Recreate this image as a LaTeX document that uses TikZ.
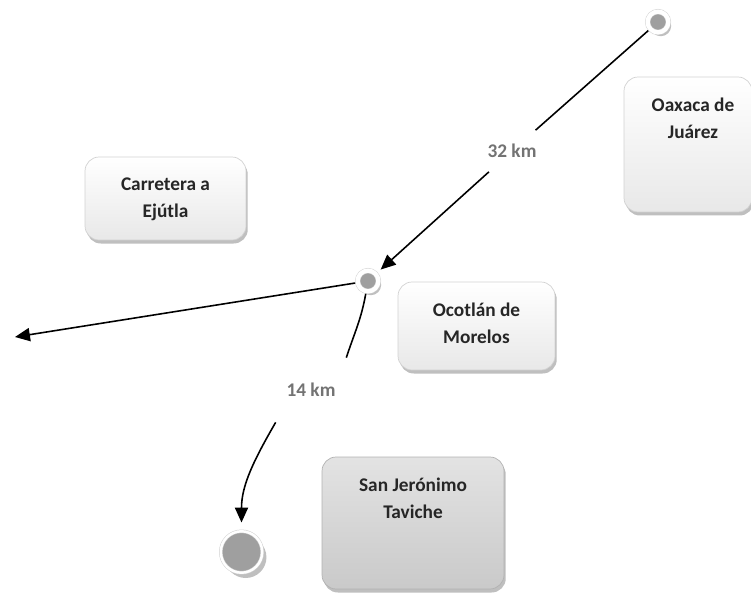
\documentclass[tikz,border=0pt]{standalone}
\usepackage{fontspec}
\setmainfont{Carlito}
\usetikzlibrary{positioning,shadows,arrows.meta}

\tikzset{
  town/.style={rectangle, rounded corners=8pt, draw=gray!35, top color=white, bottom color=gray!18,
    drop shadow={shadow xshift=1pt, shadow yshift=-2pt, fill=gray!50, opacity=1}},
  bigtown/.style={town, draw=gray!60, top color=gray!22, bottom color=gray!42},
  townname/.style={inner sep=0pt, align=center, font=\fontsize{11}{15.5}\selectfont\bfseries, text=black!85},
  stopdot/.style={circle, fill=gray!75, draw=gray!35, double=white, double distance=2.4pt, line width=0.3pt,
    minimum size=11.8pt, inner sep=0pt, outer sep=1.5pt,
    drop shadow={shadow xshift=1.6pt, shadow yshift=-2.2pt, fill=gray!50, opacity=1}},
  bigstopdot/.style={stopdot, double distance=1.4pt, minimum size=23.6pt, outer sep=1pt,
    drop shadow={shadow xshift=2.4pt, shadow yshift=-3pt, fill=gray!50, opacity=1}},
  kmlabel/.style={inner sep=0pt, font=\fontsize{11}{13}\selectfont\bfseries, text=black!55},
  road/.style={line width=0.9pt}
}

\begin{document}
\begin{tikzpicture}[x=0.02cm,y=-0.02cm,>={Triangle[length=8.5pt,width=7.5pt]}]
\useasboundingbox (0,0) rectangle (751,594);

% localities
\node[town, minimum width=2.56cm, minimum height=2.7cm] (oaxaca) at (688,144.5) {};
\node[town, minimum width=3.22cm, minimum height=1.66cm] (carretera) at (165.5,198.5) {};
\node[town, minimum width=3.14cm, minimum height=1.76cm] (ocotlan) at (476.5,326) {};
\node[bigtown, minimum width=3.64cm, minimum height=2.64cm] (taviche) at (413,523) {};

\node[townname, below=0.42cm of oaxaca.north, xshift=0.1cm] (oaxacaname) {Oaxaca de\\Juárez};
\node[townname, below=0.42cm of carretera.north] (carreteraname) {Carretera a\\Ejútla};
\node[townname, below=0.42cm of ocotlan.north] (ocotlanname) {Ocotlán de\\Morelos};
\node[townname, below=0.42cm of taviche.north] (tavichename) {San Jerónimo\\Taviche};

% stops
\node[stopdot] (oaxacastop) at (658,22) {};
\node[stopdot] (ocotlanstop) at (368,281) {};
\node[bigstopdot] (tavichestop) at (241.5,552) {};
\coordinate (ejutla) at (15,337);

% distances
\node[kmlabel, minimum width=1.12cm, minimum height=0.82cm] (km32) at (512,151) {32 km};
\node[kmlabel, minimum width=1.4cm, minimum height=1.28cm] (km14) at (311,390) {14 km};

% roads
\draw[road] (oaxacastop) -- (km32);
\draw[road, ->, shorten >=2.3pt] (km32) -- (ocotlanstop);
\draw[road, ->] (ocotlanstop) -- (ejutla);
\draw[road] (ocotlanstop) to[out=-100, in=72] (km14.north east);
\draw[road, ->, shorten >=4pt] (km14.south west) to[out=240, in=90] (tavichestop);
\end{tikzpicture}
\end{document}
